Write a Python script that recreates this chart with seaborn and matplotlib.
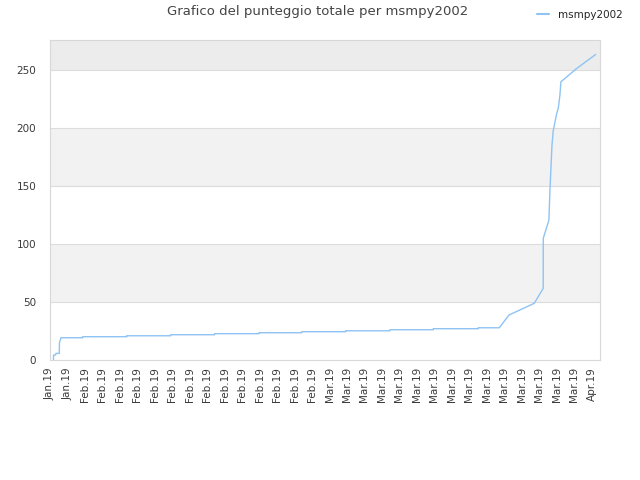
import matplotlib
matplotlib.use("Agg")
import matplotlib.pyplot as plt
import matplotlib.dates as mdates
from matplotlib.lines import Line2D
import seaborn as sns
import pandas as pd

# ---- data ----
times = [
    "2019-01-29 09:30", "2019-01-29 09:40", "2019-01-29 15:00", "2019-01-29 16:30",
    "2019-01-30 01:30", "2019-01-30 02:00", "2019-01-30 06:15",
    "2019-02-01 17:45", "2019-02-01 17:45",
    "2019-02-06 18:40", "2019-02-06 18:40",
    "2019-02-11 19:30", "2019-02-11 19:30",
    "2019-02-16 20:25", "2019-02-16 20:25",
    "2019-02-21 22:05", "2019-02-21 22:05",
    "2019-02-26 19:25", "2019-02-26 19:25",
    "2019-03-03 20:10", "2019-03-03 20:10",
    "2019-03-08 21:50", "2019-03-08 21:50",
    "2019-03-13 20:50", "2019-03-13 20:50",
    "2019-03-19 00:30", "2019-03-19 00:30",
    "2019-03-21 10:20", "2019-03-22 13:00", "2019-03-25 10:20",
    "2019-03-26 11:00", "2019-03-26 11:05", "2019-03-27 02:40",
    "2019-03-27 05:30", "2019-03-27 11:00", "2019-03-27 14:40",
    "2019-03-28 00:00", "2019-03-28 04:20", "2019-03-28 08:50",
    "2019-03-28 11:40", "2019-03-28 22:35", "2019-03-30 06:40",
    "2019-04-01 11:00",
]
scores = [
    0.0, 4.3, 4.3, 5.7,
    5.7, 15.0, 19.2,
    19.2, 20.1,
    20.1, 20.9,
    20.9, 21.8,
    21.8, 22.7,
    22.7, 23.5,
    23.5, 24.4,
    24.4, 25.2,
    25.2, 26.1,
    26.1, 27.0,
    27.0, 27.8,
    27.8, 38.8, 48.9,
    61.8, 104.9, 120.7,
    146.5, 185.0, 198.0,
    212.6, 217.0, 228.4,
    240.0, 242.8, 251.4,
    263.5,
]
series_name = "msmpy2002"
title = "Grafico del punteggio totale per msmpy2002"
tick_dates = pd.date_range("2019-01-29", "2019-04-01", freq="2D")
y_ticks = [0, 50, 100, 150, 200, 250]

df = pd.DataFrame({"date": pd.to_datetime(times), "score": scores, "player": series_name})

sns.set_style("white")
plt.rcParams["font.family"] = ["DejaVu Sans"]

fig = plt.figure(figsize=(6.4, 4.8), dpi=100)
ax = fig.add_axes([50 / 640, 1 - 360 / 480, 550 / 640, 320 / 480])

ymax = 276
# alternating bands
ax.axhspan(50, 100, color="#f2f2f2", zorder=0, lw=0)
ax.axhspan(150, 200, color="#f2f2f2", zorder=0, lw=0)
ax.axhspan(250, ymax, color="#ececec", zorder=0, lw=0)
for yv in y_ticks[1:]:
    ax.axhline(yv, color="#dcdcdc", lw=0.8, zorder=1)

sns.lineplot(data=df, x="date", y="score", hue="player", palette=["#8fc3f3"],
             estimator=None, sort=False, lw=1.0, ax=ax, legend=False, zorder=3)

ax.set_xlim(pd.Timestamp("2019-01-29 00:00"), pd.Timestamp("2019-04-01 23:00"))
ax.set_ylim(0, ymax)
ax.set_xticks(tick_dates)
ax.xaxis.set_major_formatter(mdates.DateFormatter("%b.%y"))
ax.set_yticks(y_ticks)
ax.tick_params(axis="x", rotation=90, labelsize=7.5, length=0, pad=5, colors="#3a3a3a")
ax.tick_params(axis="y", labelsize=7.5, length=0, pad=10, colors="#3a3a3a")
ax.set_xlabel("")
ax.set_ylabel("")
for s in ax.spines.values():
    s.set_color("#d8d8d8")
    s.set_linewidth(0.8)

fig.text(318 / 640, 1 - 12 / 480, title, ha="center", va="center",
         fontsize=9.5, color="#444444")

h = Line2D([], [], color="#8fc3f3", lw=1.5)
fig.legend([h], [series_name], loc="center right", bbox_to_anchor=(632 / 640, 1 - 15 / 480),
           frameon=False, fontsize=7.5, handlelength=1.1, handletextpad=0.9)

fig.savefig("out.png", dpi=100)
